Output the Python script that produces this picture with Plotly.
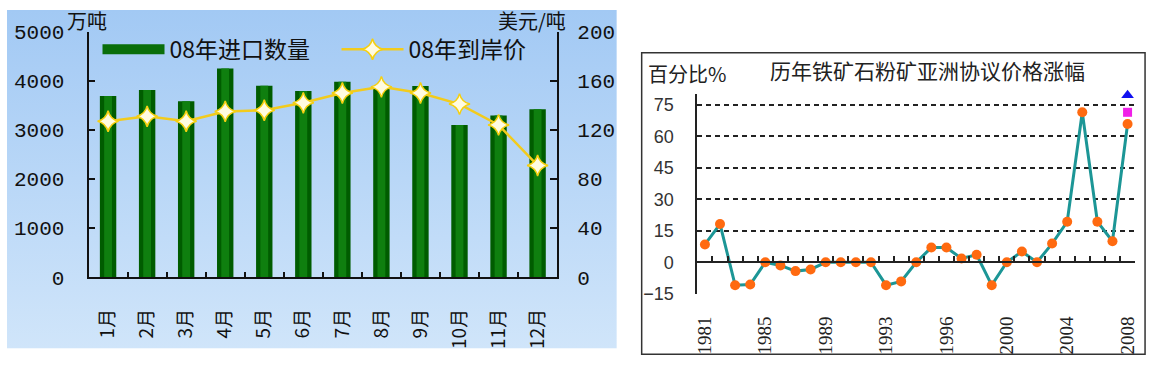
import base64
import plotly.graph_objects as go

# ---------------- data: left chart ----------------
months = ["1月", "2月", "3月", "4月", "5月", "6月", "7月", "8月", "9月", "10月", "11月", "12月"]
imports_2008 = [3690, 3810, 3580, 4250, 3900, 3790, 3980, 3850, 3890, 3100, 3290, 3420]   # 万吨
price_2008 = [127, 131, 127, 135, 136, 142, 150, 155, 150, 141, 124, 91]                     # 美元/吨
left_y_ticks = [0, 1000, 2000, 3000, 4000, 5000]
right_y_ticks = [0, 40, 80, 120, 160, 200]

# ---------------- data: right chart ----------------
change_pct = [8.5, 18.2, -10.9, -10.6, 0, -1.5, -4.2, -3.4, 0, 0, 0, 0, -10.9, -9.1, 0,
              7.0, 7.0, 1.8, 3.6, -10.9, 0, 5.1, 0, 8.9, 19.3, 71.4, 19.3, 10.0, 65.8]
year_tick_labels = ["1981", "1985", "1989", "1993", "1996", "2000", "2004", "2008"]
extra_2008_pink = [71.4]
extra_2008_blue = [79.5]
pct_ticks = [-15, 0, 15, 30, 45, 60, 75]

W, H = 1159, 370
CJK = "Noto Sans CJK SC"
NUM = "Liberation Mono"


def px_x(v):
    return v / W


def px_y(v):
    return (H - v) / H


fig = go.Figure()

# ---- left chart: bars (two overlaid widths to mimic gradient shading) ----
fig.add_trace(go.Bar(x=months, y=imports_2008, width=0.42, marker=dict(color="#005c00", line=dict(width=0)),
                     showlegend=False, xaxis="x", yaxis="y", hoverinfo="skip"))
fig.add_trace(go.Bar(x=months, y=imports_2008, width=0.2, marker=dict(color="#0f7f0f", line=dict(width=0)),
                     showlegend=False, xaxis="x", yaxis="y", hoverinfo="skip"))
# legend entry for the bars
fig.add_trace(go.Scatter(x=[None], y=[None], mode="lines", name="08年进口数量",
                         line=dict(color="#0a6e0a", width=14), xaxis="x", yaxis="y"))
fig.add_trace(go.Scatter(x=months, y=price_2008, mode="lines+markers", name="08年到岸价",
                         line=dict(color="#f2cb1d", width=2.5),
                         marker=dict(symbol="star-diamond", size=15, color="#fffbe0",
                                     line=dict(color="#f5cf10", width=1.5)),
                         xaxis="x", yaxis="y2"))

# ---- right chart ----
idx = list(range(len(change_pct)))
fig.add_trace(go.Scatter(x=idx, y=change_pct, mode="lines+markers", showlegend=False,
                         line=dict(color="#1c9696", width=3),
                         marker=dict(symbol="circle", size=10, color="#ff6a10"),
                         xaxis="x3", yaxis="y3", cliponaxis=False))
fig.add_trace(go.Scatter(x=[idx[-1]], y=extra_2008_pink, mode="markers", showlegend=False,
                         marker=dict(symbol="square", size=9, color="#f020e8"),
                         xaxis="x3", yaxis="y3", cliponaxis=False))
fig.add_trace(go.Scatter(x=[idx[-1]], y=extra_2008_blue, mode="markers", showlegend=False,
                         marker=dict(symbol="triangle-up", size=11, color="#1010f0"),
                         xaxis="x3", yaxis="y3", cliponaxis=False))
fig.add_trace(go.Scatter(x=[None], y=[None], showlegend=False, xaxis="x4", yaxis="y3", hoverinfo="skip"))

# geometry
L_dom_x = [px_x(86), px_x(557)]
L_dom_y = [px_y(285), px_y(23)]
R_dom_x = [px_x(698), px_x(1138)]
R_dom_y = [px_y(302.6), px_y(89.8)]
r_range = [-15, 80]
zero_pos = R_dom_y[0] + (0 - r_range[0]) / (r_range[1] - r_range[0]) * (R_dom_y[1] - R_dom_y[0])
xr = [-0.5, len(change_pct) - 0.5]

svg = ("<svg xmlns='http://www.w3.org/2000/svg' width='613' height='361' preserveAspectRatio='none'>"
       "<defs><linearGradient id='g' x1='0' y1='0' x2='0' y2='1'>"
       "<stop offset='0' stop-color='#a2c9f4'/><stop offset='1' stop-color='#d0e5fa'/>"
       "</linearGradient></defs><rect width='613' height='361' fill='url(#g)'/></svg>")
src = "data:image/svg+xml;base64," + base64.b64encode(svg.encode()).decode()

fig.update_layout(
    width=W, height=H, margin=dict(l=0, r=0, t=0, b=0),
    paper_bgcolor="white", plot_bgcolor="rgba(0,0,0,0)",
    barmode="overlay", font=dict(family=CJK, color="#111"),
    images=[dict(source=src, xref="paper", yref="paper", x=px_x(4), y=1.0,
                 sizex=613 / W, sizey=361 / H, sizing="stretch", layer="below",
                 xanchor="left", yanchor="top")],
    xaxis=dict(domain=L_dom_x, anchor="y", type="category", showline=True, linecolor="#111", linewidth=2,
               ticks="inside", tickson="boundaries", ticklen=5, tickwidth=1.5, tickcolor="#111",
               tickangle=-90, tickfont=dict(family=CJK, size=19, color="#111"), ticklabelstandoff=22,
               showgrid=False, zeroline=False, range=[-0.5, 11.5]),
    yaxis=dict(domain=L_dom_y, anchor="x", range=[0, 5000], tickvals=left_y_ticks, showline=True,
               linecolor="#111", linewidth=2, ticks="inside", ticklen=6, tickwidth=1.5, tickcolor="#111",
               tickfont=dict(family=NUM, size=21, color="#111"), ticklabelstandoff=18,
               showgrid=False, zeroline=False),
    yaxis2=dict(overlaying="y", side="right", anchor="x", range=[0, 200], tickvals=right_y_ticks,
                showline=True, linecolor="#111", linewidth=2, ticks="inside", ticklen=7, tickwidth=1.5,
                tickcolor="#111", tickfont=dict(family=NUM, size=21, color="#111"), ticklabelstandoff=14,
                showgrid=False, zeroline=False),
    xaxis3=dict(domain=R_dom_x, anchor="y3", range=xr, showline=False, ticks="",
                tickvals=list(range(0, len(change_pct), 4)), ticktext=year_tick_labels,
                tickangle=-90, tickfont=dict(family="Liberation Serif", size=19, color="#222"),
                ticklabelstandoff=18, showgrid=False, zeroline=False),
    xaxis4=dict(overlaying="x3", anchor="free", position=zero_pos, range=xr, showline=True,
                linecolor="#222", linewidth=2, ticks="inside", ticklen=5, tickwidth=1.5, tickcolor="#222",
                tickvals=[i - 0.5 for i in range(len(change_pct) + 1)], showticklabels=False,
                showgrid=False, zeroline=False),
    yaxis3=dict(domain=R_dom_y, anchor="x3", range=r_range, tickvals=pct_ticks, showline=True,
                linecolor="#222", linewidth=2, ticks="", showgrid=True, gridcolor="#222", gridwidth=1.5,
                griddash="5px,4px", zeroline=False,
                tickfont=dict(family="Liberation Sans", size=18, color="#333"), ticklabelstandoff=18),
    legend=dict(orientation="h", x=px_x(95), y=px_y(19), xanchor="left", yanchor="top",
                bgcolor="rgba(0,0,0,0)", font=dict(family=CJK, size=23, color="#111"),
                itemwidth=62, entrywidth=162, traceorder="normal"),
    shapes=[dict(type="rect", xref="paper", yref="paper", x0=px_x(642), x1=px_x(1148),
                 y0=px_y(367), y1=px_y(45.5), line=dict(color="#333", width=1.5), layer="below")],
    annotations=[
        dict(text="万吨", xref="paper", yref="paper", x=px_x(62), y=px_y(11), xanchor="left",
             yanchor="middle", showarrow=False, font=dict(family=CJK, size=20, color="#111")),
        dict(text="美元/吨", xref="paper", yref="paper", x=px_x(568), y=px_y(11), xanchor="right",
             yanchor="middle", showarrow=False, font=dict(family=CJK, size=20, color="#111")),
        dict(text="历年铁矿石粉矿亚洲协议价格涨幅", xref="paper", yref="paper", x=px_x(929), y=px_y(64),
             xanchor="center", yanchor="middle", showarrow=False, font=dict(family=CJK, size=21, color="#222")),
        dict(text="百分比%", xref="paper", yref="paper", x=px_x(646), y=px_y(68), xanchor="left",
             yanchor="middle", showarrow=False, font=dict(family=CJK, size=20, color="#222")),
    ],
)

fig.write_html("out.html")
